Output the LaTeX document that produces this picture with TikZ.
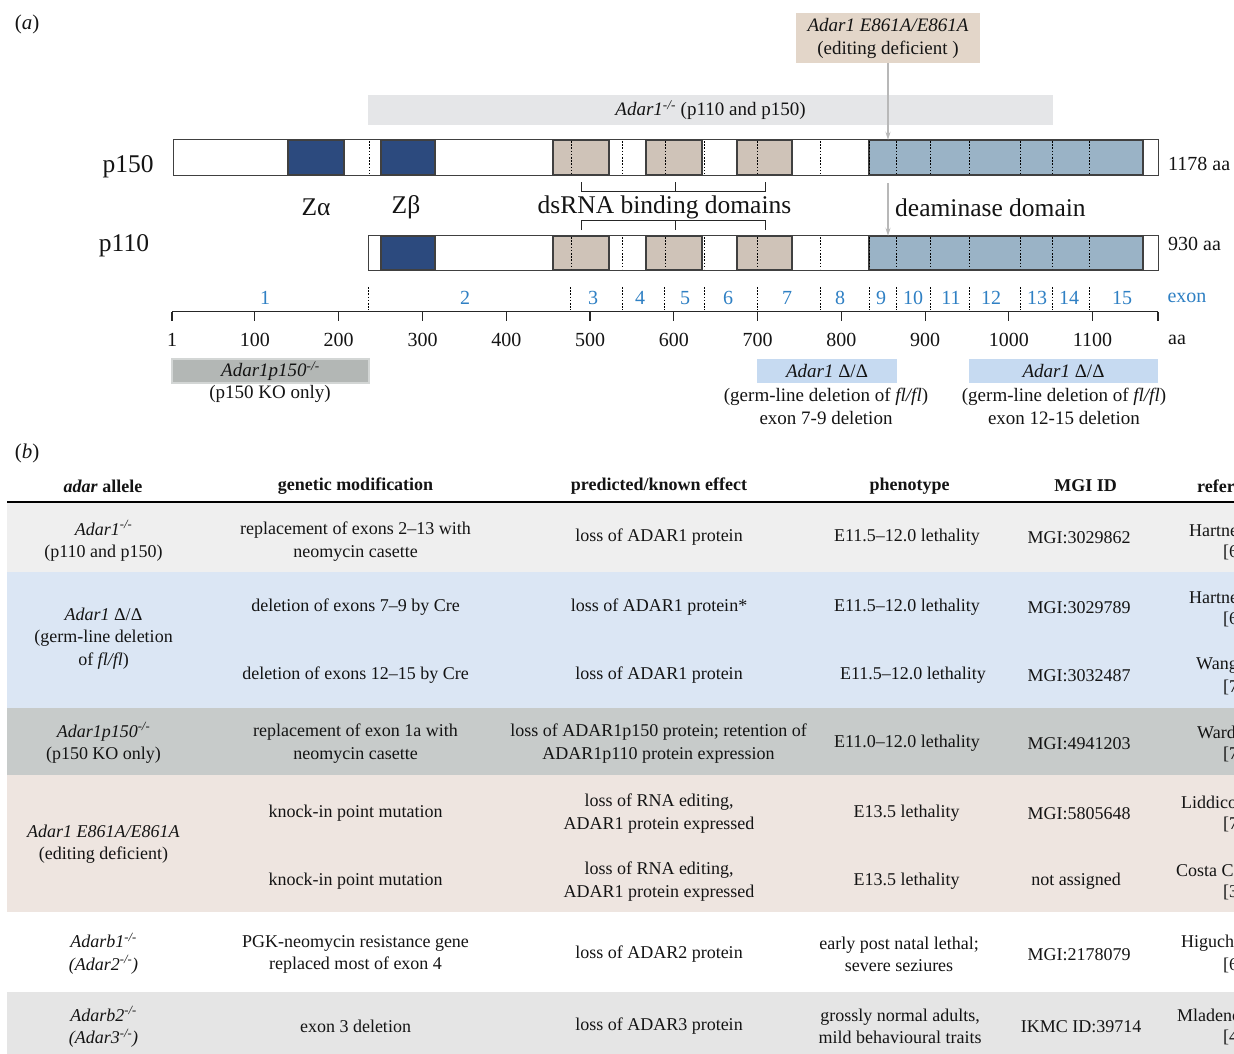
\documentclass[tikz,border=0pt]{standalone}
\usepackage{fontspec}
\setmainfont{Liberation Serif}
\usetikzlibrary{arrows.meta}
\definecolor{zdark}{HTML}{2C4A7E}
\definecolor{tanc}{HTML}{CFC3B8}
\definecolor{deam}{HTML}{9AB3C6}
\definecolor{e861c}{HTML}{E3D6C9}
\definecolor{kogray}{HTML}{E5E6E8}
\definecolor{kobox}{HTML}{B3B7B5}
\definecolor{koborder}{HTML}{D3D6D5}
\definecolor{deltac}{HTML}{C6DAF1}
\definecolor{exblue}{HTML}{2F80C4}
\definecolor{rowA}{HTML}{EFEFEF}
\definecolor{rowB}{HTML}{DBE6F4}
\definecolor{rowC}{HTML}{C7CBCA}
\definecolor{rowD}{HTML}{EEE5E0}
\definecolor{rowF}{HTML}{E5E5E5}
\definecolor{txt}{HTML}{141414}
\definecolor{arrgray}{HTML}{B8B8B8}
\newcommand\fs[2]{\fontsize{#1}{#2}\selectfont}
\tikzset{
  dom/.style={draw=black!75, line width=1.1pt},
  exdot/.style={black, line width=0.9pt, dash pattern=on 1.6pt off 1.6pt},
  garrow/.style={arrgray, line width=1.3pt, -{Stealth[length=8pt,width=5pt]}},
  bracketline/.style={black!85, line width=1pt},
  biglbl/.style={font=\fs{25.5}{30}, text=txt, inner sep=0, yshift=-1.5pt},
  axlbl/.style={font=\fs{20}{24}, text=txt, inner sep=0},
  exlbl/.style={font=\fs{20}{24}, text=exblue, inner sep=0},
  lowlbl/.style={font=\fs{19}{23}, text=txt, inner sep=0, align=center},
  tcell/.style={font=\fs{18}{22.5}, text=txt, inner sep=0, align=center, yshift=-1.5pt},
  thead/.style={font=\fs{18}{22.5}\bfseries, text=txt, inner sep=0, align=center, yshift=-1pt},
}
\begin{document}
\begin{tikzpicture}[x=1pt,y=-1pt]
\useasboundingbox (0,0) rectangle (1234,1054);
\begin{scope}
\clip (0,0) rectangle (1234,1054);
\fill[white] (0,0) rectangle (1234,1054);

% ---------------- (a) ----------------
\node[font=\fs{21}{25}, text=txt, inner sep=0] (la) at (27,24) {(\textit{a})};

\node[fill=e861c, minimum width=184pt, minimum height=50pt, inner sep=0,
      font=\fs{19}{23}, text=txt, align=center] (e861) at (888,38)
      {\textit{Adar1 E861A/E861A}\\(editing deficient )};

\node[fill=kogray, minimum width=685pt, minimum height=30pt, inner sep=0] (ko) at (710.5,110) {};
\node[font=\fs{19}{23}, text=txt, inner sep=0] (kotext) at (ko.center) {\textit{Adar1\textsuperscript{-/-}} (p110 and p150)};

% p150 bar
\node[inner sep=0, minimum width=984pt, minimum height=35pt, fill=white] (p150bar) at (666,157.5) {};
\draw[dom, fill=zdark] (288,140) rectangle (344,175);
\draw[dom, fill=zdark] (381,140) rectangle (435,175);
\draw[dom, fill=tanc] (553,140) rectangle (609,175);
\draw[dom, fill=tanc] (646,140) rectangle (702,175);
\draw[dom, fill=tanc] (737,140) rectangle (792,175);
\draw[dom, fill=deam] (869,140) rectangle (1143,175);
\foreach \x in {369,571,622,665,704,757,820,869,896,930,969,1020,1052,1089}
  \draw[exdot] (\x,141) -- (\x,174);
\draw[dom] (p150bar.north west) rectangle (p150bar.south east);

% p110 bar
\node[inner sep=0, minimum width=789pt, minimum height=34pt, fill=white] (p110bar) at (763.5,253) {};
\draw[dom, fill=zdark] (381,236) rectangle (435,270);
\draw[dom, fill=tanc] (553,236) rectangle (609,270);
\draw[dom, fill=tanc] (646,236) rectangle (702,270);
\draw[dom, fill=tanc] (737,236) rectangle (792,270);
\draw[dom, fill=deam] (869,236) rectangle (1143,270);
\foreach \x in {571,622,665,704,757,820,869,896,930,969,1020,1052,1089}
  \draw[exdot] (\x,237) -- (\x,269);
\draw[dom] (p110bar.north west) rectangle (p110bar.south east);

% labels
\node[biglbl] (lp150) at (128,165) {p150};
\node[biglbl] (lp110) at (124,244) {p110};
\node[axlbl, anchor=west] (len150) at (1168,164) {1178 aa};
\node[axlbl, anchor=west] (len110) at (1168,244) {930 aa};
\node[biglbl] (za) at (316,206) {Zα};
\node[biglbl] (zb) at (406,206) {Zβ};
\node[biglbl] (dsrna) at (664.5,206) {dsRNA binding domains};
\node[biglbl, anchor=west] (deamlbl) at (895,206) {deaminase domain};

% brackets
\draw[bracketline] (581.5,182) -- (581.5,191.5) -- (765,191.5) -- (765,182);
\draw[bracketline] (675,191.5) -- (675,182);
\draw[bracketline] (581.5,230) -- (581.5,220.5) -- (765,220.5) -- (765,230);
\draw[bracketline] (675,220.5) -- (675,230);

% arrows
\draw[garrow] (e861.south) -- (e861.south |- p150bar.north);
\coordinate (arr2) at (888,183);
\draw[garrow] (arr2) -- (arr2 |- p110bar.north);

% exon axis
\foreach \x in {368,570.5,622.5,664.5,704,757,820.6,869.8,896,930,969,1020,1052,1089}
  \draw[exdot] (\x,287) -- (\x,310);
\foreach \n/\x in {1/265,2/465,3/593,4/640,5/685,6/728,7/787,8/840,9/881,10/913,11/951,12/991,13/1037,14/1069,15/1122}
  \node[exlbl] (ex\n) at (\x,298) {\n};
\node[exlbl] (exword) at (1187,298) {exon};
\draw[black!85, line width=1.1pt] (172,311.5) -- (1158,311.5);
\foreach \v/\x in {1/172,100/254.9,200/338.7,300/422.5,400/506.3,500/590,600/673.8,700/757.6,800/841.3,900/925.1,1000/1008.9,1100/1092.6}{
  \draw[black!85, line width=1.1pt] (\x,311.5) -- (\x,321);
  \node[axlbl] (ax\v) at (\x,340) {\v};
}
\draw[black!85, line width=1.1pt] (1158,311.5) -- (1158,321);
\node[axlbl] (aaword) at (1177,340) {aa};

% lower allele boxes
\node[fill=kobox, draw=koborder, line width=1.2pt, minimum width=197pt, minimum height=24pt, inner sep=0,
      font=\fs{19}{23}, text=txt] (kop150) at (270.5,371) {\textit{Adar1p150\textsuperscript{-/-}}};
\node[lowlbl] (kop150t) at (270,394) {(p150 KO only)};
\node[fill=deltac, minimum width=140pt, minimum height=24pt, inner sep=0,
      font=\fs{19}{23}, text=txt] (del1) at (827,371) {\textit{Adar1} Δ/Δ};
\node[lowlbl] (del1t) at (826,406.5) {(germ-line deletion of \textit{fl/fl})\\exon 7-9 deletion};
\node[fill=deltac, minimum width=189pt, minimum height=24pt, inner sep=0,
      font=\fs{19}{23}, text=txt] (del2) at (1063.5,371) {\textit{Adar1} Δ/Δ};
\node[lowlbl] (del2t) at (1064,406.5) {(germ-line deletion of \textit{fl/fl})\\exon 12-15 deletion};

% ---------------- (b) ----------------
\node[font=\fs{21}{25}, text=txt, inner sep=0] (lb) at (27,453) {(\textit{b})};

% row backgrounds
\fill[rowA] (7,503) rectangle (1234,572);
\fill[rowB] (7,572) rectangle (1234,708);
\fill[rowC] (7,708) rectangle (1234,775);
\fill[rowD] (7,775) rectangle (1234,912);
\fill[rowF] (7,992) rectangle (1234,1054);
\draw[black, line width=2.2pt] (7,502) -- (1234,502);

% header
\node[thead] (h1) at (103,485) {\textit{adar} allele};
\node[thead] (h2) at (355.5,485) {genetic modification};
\node[thead] (h3) at (659,485) {predicted/known effect};
\node[thead] (h4) at (909.5,485) {phenotype};
\node[thead] (h5) at (1085.5,485) {MGI ID};
\node[thead, anchor=west] (h6) at (1197,485) {refer};

% row 1
\node[tcell] (r1c1) at (103.5,539.5) {\textit{Adar1\textsuperscript{-/-}}\\(p110 and p150)};
\node[tcell] (r1c2) at (355.5,540) {replacement of exons 2–13 with\\neomycin casette};
\node[tcell] (r1c3) at (659,536) {loss of ADAR1 protein};
\node[tcell] (r1c4) at (907,536) {E11.5–12.0 lethality};
\node[tcell] (r1c5) at (1079,536) {MGI:3029862};
\node[tcell, anchor=west] (r1c6a) at (1189,529) {Hartne};
\node[tcell, anchor=west] (r1c6b) at (1223,551) {[6};

% row 2
\node[tcell] (r2c1) at (103.5,637) {\textit{Adar1} Δ/Δ\\(germ-line deletion\\of \textit{fl/fl})};
\node[tcell] (r2c2) at (355.5,606) {deletion of exons 7–9 by Cre};
\node[tcell] (r2c3) at (659,606) {loss of ADAR1 protein*};
\node[tcell] (r2c4) at (907,606) {E11.5–12.0 lethality};
\node[tcell] (r2c5) at (1079,606) {MGI:3029789};
\node[tcell, anchor=west] (r2c6a) at (1189,596) {Hartne};
\node[tcell, anchor=west] (r2c6b) at (1223,618) {[6};
\node[tcell] (r2bc2) at (355.5,674) {deletion of exons 12–15 by Cre};
\node[tcell] (r2bc3) at (659,674) {loss of ADAR1 protein};
\node[tcell] (r2bc4) at (913,674) {E11.5–12.0 lethality};
\node[tcell] (r2bc5) at (1079,674) {MGI:3032487};
\node[tcell, anchor=west] (r2bc6a) at (1196,664) {Wang};
\node[tcell, anchor=west] (r2bc6b) at (1223,686) {[7};

% row 3
\node[tcell] (r3c1) at (103.5,741.5) {\textit{Adar1p150\textsuperscript{-/-}}\\(p150 KO only)};
\node[tcell] (r3c2) at (355.5,742) {replacement of exon 1a with\\neomycin casette};
\node[tcell] (r3c3) at (658.5,742) {loss of ADAR1p150 protein; retention of\\ADAR1p110 protein expression};
\node[tcell] (r3c4) at (907,742) {E11.0–12.0 lethality};
\node[tcell] (r3c5) at (1079,742) {MGI:4941203};
\node[tcell, anchor=west] (r3c6a) at (1197,731) {Ward};
\node[tcell, anchor=west] (r3c6b) at (1223,753) {[7};

% row 4
\node[tcell] (r4c1) at (103.5,842.5) {\textit{Adar1 E861A/E861A}\\(editing deficient)};
\node[tcell] (r4c2) at (355.5,812) {knock-in point mutation};
\node[tcell] (r4c3) at (659,812) {loss of RNA editing,\\ADAR1 protein expressed};
\node[tcell] (r4c4) at (906.5,812) {E13.5 lethality};
\node[tcell] (r4c5) at (1079,812) {MGI:5805648};
\node[tcell, anchor=west] (r4c6a) at (1181,801) {Liddico};
\node[tcell, anchor=west] (r4c6b) at (1223,823) {[7};
\node[tcell] (r4bc2) at (355.5,880) {knock-in point mutation};
\node[tcell] (r4bc3) at (659,880) {loss of RNA editing,\\ADAR1 protein expressed};
\node[tcell] (r4bc4) at (906.5,880) {E13.5 lethality};
\node[tcell] (r4bc5) at (1076,880) {not assigned};
\node[tcell, anchor=west] (r4bc6a) at (1176,869) {Costa C};
\node[tcell, anchor=west] (r4bc6b) at (1223,891) {[3};

% row 5
\node[tcell] (r5c1) at (103.5,952) {\textit{Adarb1\textsuperscript{-/-}}\\\textit{(Adar2\textsuperscript{-/-})}};
\node[tcell] (r5c2) at (355.5,953) {PGK-neomycin resistance gene\\replaced most of exon 4};
\node[tcell] (r5c3) at (659,953) {loss of ADAR2 protein};
\node[tcell] (r5c4) at (899,953) {early post natal lethal;\\severe seziures};
\node[tcell] (r5c5) at (1079,953) {MGI:2178079};
\node[tcell, anchor=west] (r5c6a) at (1181,942) {Higuch};
\node[tcell, anchor=west] (r5c6b) at (1223,964) {[6};

% row 6
\node[tcell] (r6c1) at (103.5,1025.5) {\textit{Adarb2\textsuperscript{-/-}}\\\textit{(Adar3\textsuperscript{-/-})}};
\node[tcell] (r6c2) at (355.5,1025) {exon 3 deletion};
\node[tcell] (r6c3) at (659,1025) {loss of ADAR3 protein};
\node[tcell] (r6c4) at (900,1025) {grossly normal adults,\\mild behavioural traits};
\node[tcell] (r6c5) at (1081,1025) {IKMC ID:39714};
\node[tcell, anchor=west] (r6c6a) at (1177,1014) {Mladeno};
\node[tcell, anchor=west] (r6c6b) at (1223,1036) {[4};
\end{scope}
\end{tikzpicture}
\end{document}
